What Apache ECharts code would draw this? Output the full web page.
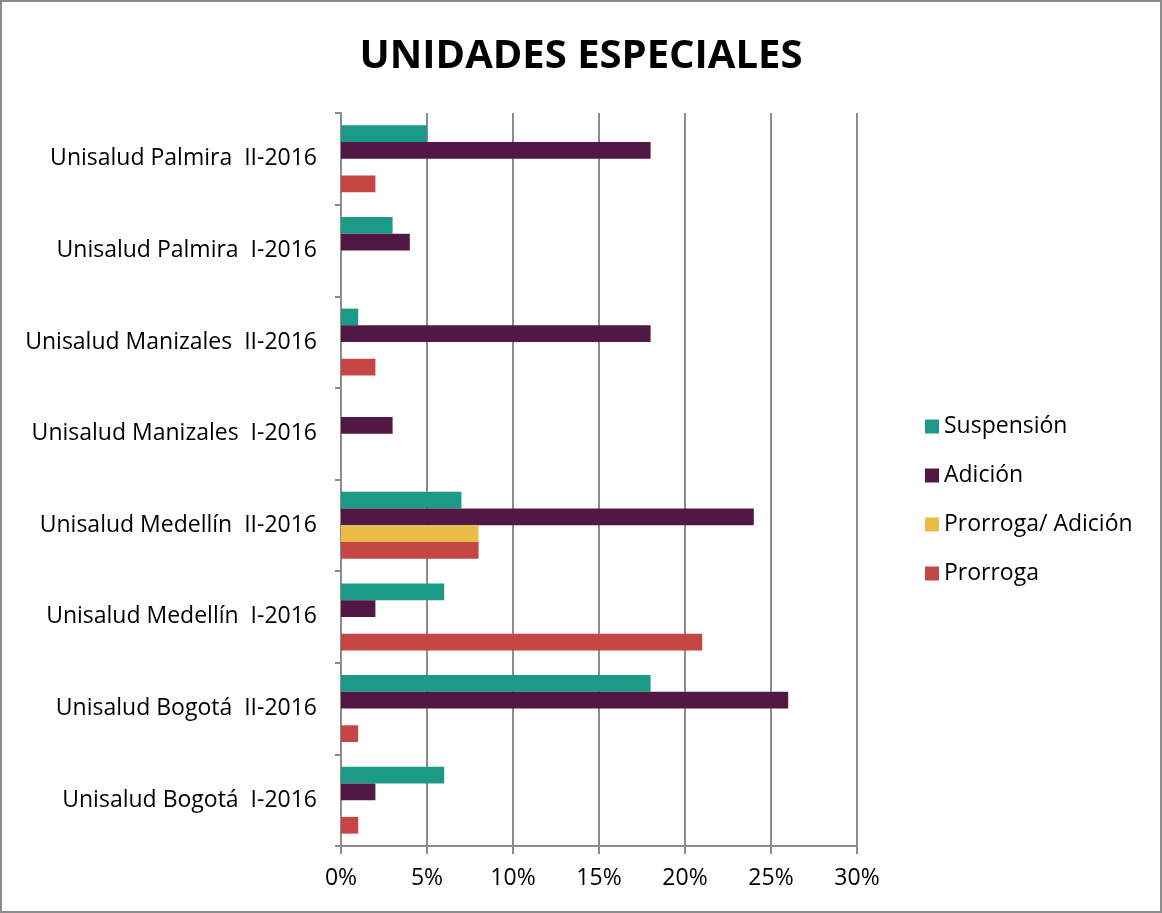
<!DOCTYPE html>
<html>
<head>
<meta charset="utf-8">
<script src="https://cdn.jsdelivr.net/npm/echarts@6/dist/echarts.min.js"></script>
<style>
  html, body { margin: 0; padding: 0; background: #fff; }
  #chart { width: 1158px; height: 909px; border: 2px solid #8c8c8c; }
</style>
</head>
<body>
<div id="chart"></div>
<script>
// categorias de abajo hacia arriba
var categorias = ['Unisalud Bogotá  I-2016', 'Unisalud Bogotá  II-2016', 'Unisalud Medellín  I-2016',
    'Unisalud Medellín  II-2016', 'Unisalud Manizales  I-2016', 'Unisalud Manizales  II-2016',
    'Unisalud Palmira  I-2016', 'Unisalud Palmira  II-2016'];
var suspension = [6, 18, 6, 7, 0, 1, 3, 5];
var adicion = [2, 26, 2, 24, 3, 18, 4, 18];
var prorrogaAdicion = [0, 0, 0, 8, 0, 0, 0, 0];
var prorroga = [1, 1, 21, 8, 0, 2, 0, 2];
var ticksX = [0, 5, 10, 15, 20, 25, 30];

var myChart = echarts.init(document.getElementById('chart'));
var fuente = 'Open Sans';

var option = {
    animation: false,
    title: {
        text: 'UNIDADES ESPECIALES',
        left: 'center',
        top: 30,
        textStyle: { fontFamily: fuente, fontSize: 40, fontWeight: 'bold', color: '#000' }
    },
    legend: {
        orient: 'vertical',
        left: 918,
        top: 407,
        itemWidth: 14,
        itemHeight: 14,
        itemGap: 24,
        icon: 'rect',
        data: ['Suspensión', 'Adición', 'Prorroga/ Adición', 'Prorroga'],
        textStyle: { fontFamily: fuente, fontSize: 23, lineHeight: 25, color: '#000' }
    },
    grid: { left: 339, right: 303, top: 111, bottom: 65 },
    xAxis: {
        type: 'value',
        min: ticksX[0],
        max: ticksX[ticksX.length - 1],
        interval: 5,
        axisLine: { show: true, lineStyle: { color: '#8c8c8c', width: 2 } },
        axisTick: { show: true, length: 8, lineStyle: { color: '#8c8c8c', width: 2 } },
        splitLine: { show: true, lineStyle: { color: '#8c8c8c', width: 2 } },
        axisLabel: { formatter: '{value}%', fontFamily: fuente, fontSize: 23, color: '#000', margin: 21 }
    },
    yAxis: {
        type: 'category',
        data: categorias,
        axisLine: { show: true, lineStyle: { color: '#8c8c8c', width: 2 } },
        axisTick: { show: true, length: 6, lineStyle: { color: '#8c8c8c', width: 2 } },
        axisLabel: { fontFamily: fuente, fontSize: 23, color: '#000', margin: 24 }
    },
    series: [
        { name: 'Suspensión', type: 'bar', data: suspension, itemStyle: { color: '#1b9a88' },
          barGap: '0%', barCategoryGap: '27%' },
        { name: 'Adición', type: 'bar', data: adicion, itemStyle: { color: '#521845' } },
        { name: 'Prorroga/ Adición', type: 'bar', data: prorrogaAdicion, itemStyle: { color: '#e8bc46' } },
        { name: 'Prorroga', type: 'bar', data: prorroga, itemStyle: { color: '#c64646' } }
    ]
};

myChart.setOption(option);
</script>
</body>
</html>
